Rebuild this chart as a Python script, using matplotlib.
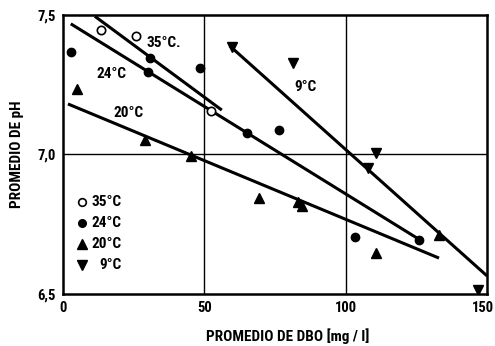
import matplotlib
matplotlib.use("Agg")
import matplotlib.pyplot as plt
import matplotlib.transforms as mtransforms

plt.rcParams['font.family'] = ['Liberation Sans Narrow', 'DejaVu Sans Condensed',
                               'Roboto Condensed', 'DejaVu Sans']
plt.rcParams['font.weight'] = 'bold'

# Data (DBO mg/l, pH)
x35 = [13.4, 25.8, 52.4]
y35 = [7.446, 7.425, 7.156]
x24 = [2.8, 30.8, 30.1, 48.5, 65.1, 76.4, 103.3, 125.9]
y24 = [7.367, 7.346, 7.296, 7.31, 7.077, 7.088, 6.704, 6.694]
x20 = [4.9, 29.0, 45.3, 69.3, 83.1, 84.5, 110.6, 133.0]
y20 = [7.235, 7.052, 6.995, 6.844, 6.83, 6.815, 6.647, 6.71]
x9 = [59.8, 81.4, 110.7, 107.9, 146.8]
y9 = [7.385, 7.328, 7.005, 6.95, 6.514]

# Fitted line endpoints
line35_x = [11.3, 56.2]
line35_y = [7.495, 7.159]
line24_x = [2.8, 126.3]
line24_y = [7.468, 6.694]
line20_x = [1.8, 133.0]
line20_y = [7.181, 6.629]
line9_x = [59.0, 150.0]
line9_y = [7.389, 6.565]

xticks = [0, 50, 100, 150]
yticks = [6.5, 7.0, 7.5]
yticklabels = ['6,5', '7,0', '7,5']

fig = plt.figure(figsize=(4.95, 3.46), dpi=100)
ax = fig.add_axes([0.127, 0.150, 0.857, 0.807])

for lx, ly in [(line35_x, line35_y), (line24_x, line24_y),
               (line20_x, line20_y), (line9_x, line9_y)]:
    ax.plot(lx, ly, color='black', lw=2.2, solid_capstyle='butt', zorder=3)

ax.plot(x35, y35, 'o', mfc='white', mec='black', mew=1.2, ms=6, zorder=4)
ax.plot(x24, y24, 'o', color='black', ms=6, zorder=4)
ax.plot(x20, y20, '^', color='black', ms=7, zorder=4)
ax.plot(x9, y9, 'v', color='black', ms=7, zorder=4)

ax.set_xlim(0, 150)
ax.set_ylim(6.5, 7.5)
ax.set_xticks(xticks)
ax.set_xticklabels([str(t) for t in xticks])
ax.set_yticks(yticks)
ax.set_yticklabels(yticklabels)
ax.tick_params(length=0, labelsize=10.5, pad=5)
last = ax.get_xticklabels()[-1]
last.set_horizontalalignment('right')
last.set_transform(last.get_transform() +
                   mtransforms.ScaledTranslation(7 / 100, 0, fig.dpi_scale_trans))
for s in ax.spines.values():
    s.set_linewidth(1.8)
ax.axvline(50, color='black', lw=1.0, zorder=1)
ax.axvline(100, color='black', lw=1.0, zorder=1)
ax.axhline(7.0, color='black', lw=1.0, zorder=1)

tk = dict(fontsize=11, fontweight='bold', ha='left', va='center')
ax.text(29.7, 7.40, '35°C.', **tk)
ax.text(12.0, 7.29, '24°C', **tk)
ax.text(18.0, 7.15, '20°C', **tk)
ax.text(82.0, 7.24, '9°C', **tk)

# legend drawn as in the original
leg_y = [6.83, 6.755, 6.68, 6.605]
ax.plot([6.8], [leg_y[0]], 'o', mfc='white', mec='black', mew=1.2, ms=5.5)
ax.plot([6.8], [leg_y[1]], 'o', color='black', ms=5.5)
ax.plot([6.8], [leg_y[2]], '^', color='black', ms=6.5)
ax.plot([6.8], [leg_y[3]], 'v', color='black', ms=6.5)
ax.text(10.3, leg_y[0], '35°C', **tk)
ax.text(10.3, leg_y[1], '24°C', **tk)
ax.text(10.3, leg_y[2], '20°C', **tk)
ax.text(13.0, leg_y[3], '9°C', **tk)

fig.text(288 / 495, 1 - 336 / 346, 'PROMEDIO DE DBO [mg / l]', ha='center',
         va='center', fontsize=11, fontweight='bold')
fig.text(17 / 495, 1 - 154 / 346, 'PROMEDIO DE pH', ha='center', va='center',
         rotation=90, fontsize=11, fontweight='bold')

fig.savefig('out.png', dpi=100)
